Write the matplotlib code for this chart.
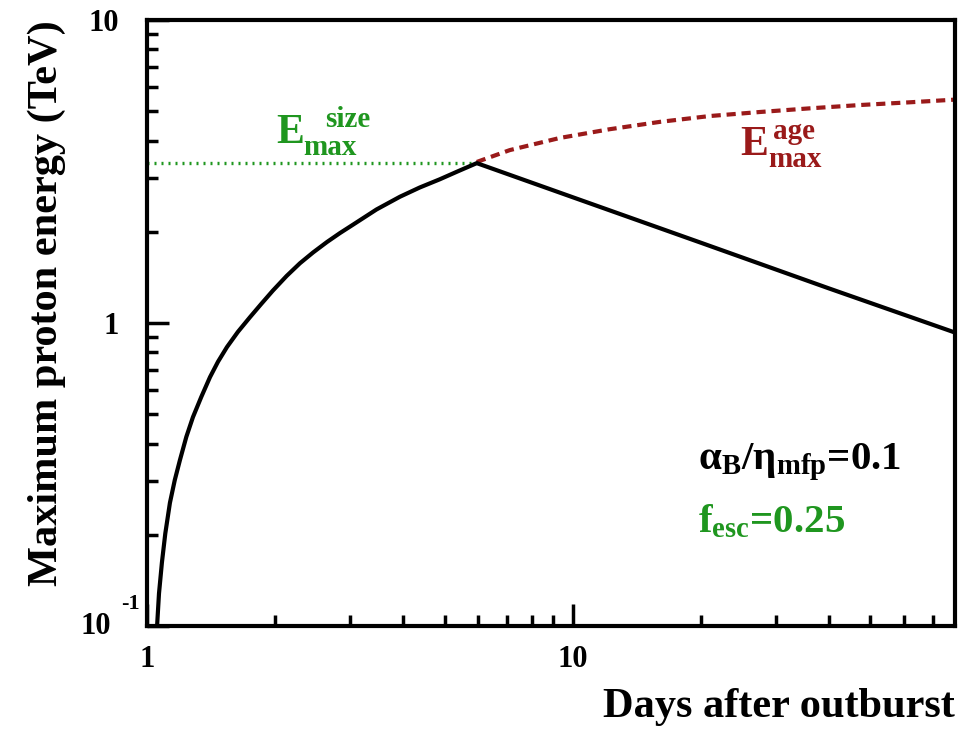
import matplotlib
matplotlib.use("Agg")
import matplotlib.pyplot as plt
from matplotlib.ticker import FixedLocator, NullFormatter, FixedFormatter

# ---- data ----
# combined maximum energy (black): rising branch then t^-0.5 decline
t_black = [1.056, 1.067, 1.084, 1.104, 1.132, 1.162, 1.195, 1.237, 1.282,
           1.341, 1.406, 1.468, 1.541, 1.635, 1.745, 1.854, 1.976, 2.128,
           2.287, 2.456, 2.646, 2.838, 3.045, 3.46, 3.926, 4.37, 4.87, 5.38,
           5.95, 10.0, 20.0, 40.0, 79.0]
e_black = [0.100, 0.128, 0.162, 0.202, 0.255, 0.303, 0.353, 0.421, 0.489,
           0.570, 0.663, 0.745, 0.833, 0.935, 1.045, 1.155, 1.280, 1.430,
           1.575, 1.710, 1.850, 1.980, 2.110, 2.37, 2.610, 2.800, 2.980, 3.170,
           3.37, 2.60, 1.84, 1.30, 0.93]
# size-limited (green dotted)
t_size = [1.0, 5.95]
e_size = [3.37, 3.37]
# age-limited (red dashed)
t_age = [5.95, 7.11, 9.32, 12.2, 16.0, 20.97, 27.5, 36.0, 47.2, 61.8, 79.0]
e_age = [3.40, 3.72, 4.08, 4.36, 4.61, 4.82, 4.97, 5.11, 5.24, 5.35, 5.46]

xticks_major = [1, 10]
xtick_labels = ["1", "10"]
yticks_major = [0.1, 1, 10]
ytick_labels = ["", "1", "10"]

GREEN = "#1f961f"
RED = "#9a1a1a"
W, H = 972, 730

plt.rcParams["font.family"] = ["Liberation Serif", "DejaVu Serif"]
plt.rcParams["font.weight"] = "bold"
plt.rcParams["mathtext.fontset"] = "custom"
plt.rcParams["mathtext.rm"] = "Liberation Serif:bold"
plt.rcParams["mathtext.bf"] = "Liberation Serif:bold"
plt.rcParams["mathtext.it"] = "Liberation Serif:bold"
plt.rcParams["mathtext.default"] = "bf"

fig = plt.figure(figsize=(W / 100, H / 100), dpi=100)
ax = fig.add_axes([147 / W, 1 - 626 / H, (955 - 147) / W, (626 - 20) / H])
ax.set_xscale("log")
ax.set_yscale("log")
ax.set_xlim(1, 79)
ax.set_ylim(0.1, 10)

ax.plot(t_size, e_size, color=GREEN, lw=2.4, linestyle=(0, (0.6, 1.5)))
ax.plot(t_age, e_age, color=RED, lw=3.0, linestyle=(0, (2.2, 1.4)))
ax.plot(t_black, e_black, color="black", lw=3.0, solid_joinstyle="round")

for s in ax.spines.values():
    s.set_linewidth(3.0)

ax.tick_params(which="both", direction="in", top=False, right=False,
               width=2.5, labelsize=22)
ax.tick_params(axis="x", pad=14)
ax.tick_params(axis="y", pad=20)
ax.tick_params(which="major", length=16)
ax.tick_params(which="minor", length=8)
ax.xaxis.set_major_locator(FixedLocator(xticks_major))
ax.xaxis.set_major_formatter(FixedFormatter(xtick_labels))
ax.yaxis.set_major_locator(FixedLocator(yticks_major))
ax.yaxis.set_major_formatter(FixedFormatter(ytick_labels))
ax.xaxis.set_minor_formatter(NullFormatter())
ax.yaxis.set_minor_formatter(NullFormatter())
for lab in ax.get_xticklabels() + ax.get_yticklabels():
    lab.set_fontweight("bold")


def ftext(px, py, s, **kw):
    fig.text(px / W, 1 - py / H, s, fontweight="bold", **kw)


# ROOT style "10^-1" label at the bottom of the y axis
ftext(111, 627, "10", fontsize=22, ha="right", va="center")
ftext(121, 604, "-1", fontsize=16, ha="left", va="center")

ax.set_xlabel("Days after outburst", fontsize=30.5, fontweight="bold",
              loc="right", labelpad=10)
ax.set_ylabel("Maximum proton energy (TeV)", fontsize=30.5, fontweight="bold",
              loc="top", labelpad=16)

# E_max^size (green)
ftext(276, 143, "E", color=GREEN, fontsize=30, ha="left", va="baseline")
ftext(303, 155, "max", color=GREEN, fontsize=21, ha="left", va="baseline")
ftext(325, 127, "size", color=GREEN, fontsize=21, ha="left", va="baseline")
# E_max^age (red)
ftext(740, 155, "E", color=RED, fontsize=30, ha="left", va="baseline")
ftext(768, 167, "max", color=RED, fontsize=21, ha="left", va="baseline")
ftext(773, 139, "age", color=RED, fontsize=21, ha="left", va="baseline")

ftext(698, 462, r"$\mathbf{\alpha_B/\eta_{mfp}}$=0.1", color="black",
      fontsize=29.5, ha="left", va="center")
ftext(698, 522, r"$\mathbf{f_{esc}}$=0.25", color=GREEN,
      fontsize=29.5, ha="left", va="center")

fig.savefig("out.png", dpi=100)
